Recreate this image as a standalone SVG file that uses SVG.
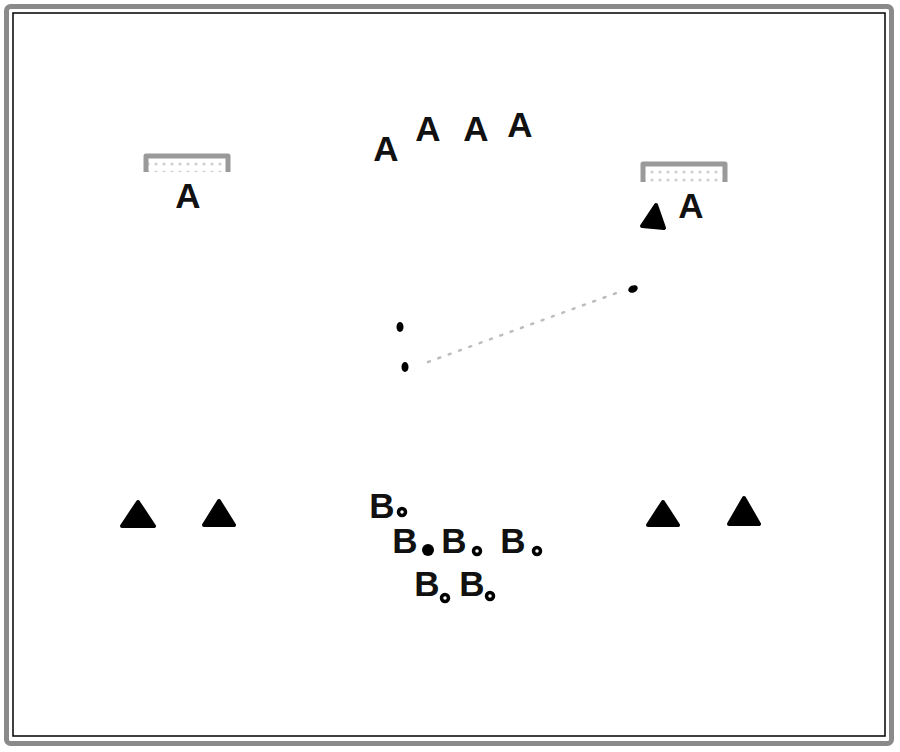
<svg xmlns="http://www.w3.org/2000/svg" width="900" height="752" viewBox="0 0 900 752">
<style>
.pl{font-family:"Liberation Sans",Arial,sans-serif;font-weight:bold;font-size:35px;fill:#111;text-anchor:middle}
.cone{fill:#000;stroke:#000;stroke-width:4;stroke-linejoin:round}
.goal{fill:url(#hatch);stroke:#9a9a9a;stroke-width:5;stroke-linejoin:round}
.ball{fill:#000}
.ring{fill:#fff;stroke:#000;stroke-width:3.5}
</style>
<defs>
<pattern id="hatch" width="8" height="8" patternUnits="userSpaceOnUse">
<rect width="8" height="8" fill="#fff"/>
<circle cx="4" cy="4" r="1.6" fill="#d0d0d0"/>
</pattern>
</defs>
<rect x="0" y="0" width="900" height="752" fill="#fff"/>
<rect x="6.5" y="6.5" width="885" height="737" rx="4" fill="none" stroke="#8a8a8a" stroke-width="5"/>
<rect x="13" y="13" width="872" height="723" fill="none" stroke="#000" stroke-width="1.5"/>

<g id="goal-left"><path class="goal" d="M146,172 V156 H228 V172"/></g>
<g id="goal-right"><path class="goal" d="M643,182 V164 H725 V182"/></g>

<g id="connectors">
<line x1="428" y1="362" x2="622" y2="291" stroke="#bdbdbd" stroke-width="2.5" stroke-dasharray="2,9" stroke-linecap="round"/>
</g>

<g id="player-a-left"><text class="pl" x="188" y="208">A</text></g>
<g id="player-a-1"><text class="pl" x="386" y="161">A</text></g>
<g id="player-a-2"><text class="pl" x="428" y="141">A</text></g>
<g id="player-a-3"><text class="pl" x="476" y="141">A</text></g>
<g id="player-a-4"><text class="pl" x="520" y="137">A</text></g>
<g id="player-a-right"><text class="pl" x="691" y="218">A</text></g>

<g id="cone-right-top"><path class="cone" d="M656,205 L664,228 L642,226 Z"/></g>

<g id="ball-1"><ellipse class="ball" cx="400" cy="327" rx="3.5" ry="5"/></g>
<g id="ball-2"><ellipse class="ball" cx="405" cy="367" rx="3.5" ry="5"/></g>
<g id="ball-3"><ellipse class="ball" cx="633" cy="289" rx="5" ry="3.5" transform="rotate(-25 633 289)"/></g>

<g id="cone-1"><path class="cone" d="M138,502 L154,526 L122,526 Z"/></g>
<g id="cone-2"><path class="cone" d="M219,501 L234,525 L204,525 Z"/></g>
<g id="cone-3"><path class="cone" d="M663,502 L678,525 L648,525 Z"/></g>
<g id="cone-4"><path class="cone" d="M744,498 L759,524 L729,524 Z"/></g>

<g id="player-b-1"><text class="pl" x="382" y="518">B</text><circle class="ring" cx="402" cy="512" r="3.5"/></g>
<g id="player-b-2"><text class="pl" x="405" y="553">B</text><circle class="ball" cx="428" cy="550" r="6"/></g>
<g id="player-b-3"><text class="pl" x="454" y="553">B</text><circle class="ring" cx="477" cy="551" r="3.5"/></g>
<g id="player-b-4"><text class="pl" x="513" y="553">B</text><circle class="ring" cx="537" cy="551" r="3.5"/></g>
<g id="player-b-5"><text class="pl" x="427" y="596">B</text><circle class="ring" cx="445" cy="598" r="3.5"/></g>
<g id="player-b-6"><text class="pl" x="472" y="596">B</text><circle class="ring" cx="490" cy="596" r="3.5"/></g>
</svg>
